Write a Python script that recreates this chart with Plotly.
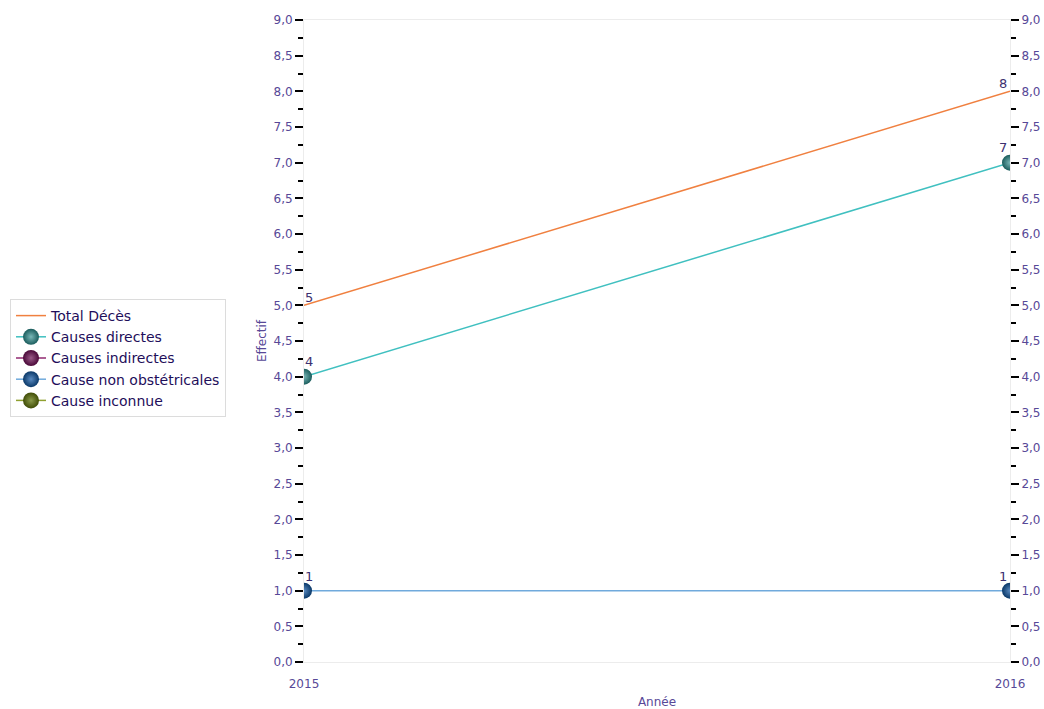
import plotly.graph_objects as go

years = [2015, 2016]
total_deces = [5, 8]
causes_directes = [4, 7]
causes_indirectes = [None, None]
cause_non_obst = [1, 1]
cause_inconnue = [None, None]

y_ticks = [0, 0.5, 1, 1.5, 2, 2.5, 3, 3.5, 4, 4.5, 5, 5.5, 6, 6.5, 7, 7.5, 8, 8.5, 9]

label_color = "#574897"
text_color = "#3c3070"
font_fam = "DejaVu Sans, Verdana, sans-serif"

fig = go.Figure()

fig.add_trace(go.Scatter(
    x=years, y=total_deces, name="Total Décès", mode="lines",
    line=dict(color="#f08040", width=1.5),
))

series = [
    ("Causes directes", causes_directes, "#40c0c0", "#1a5c5c", "#7ab8b8"),
    ("Causes indirectes", causes_indirectes, "#902870", "#4a0838", "#9a5a88"),
    ("Cause non obstétricales", cause_non_obst, "#70aadc", "#0a3868", "#5a8ac0"),
    ("Cause inconnue", cause_inconnue, "#90a030", "#404c06", "#8a9a4a"),
]
for name, vals, lc, c_edge, c_center in series:
    fig.add_trace(go.Scatter(
        x=years, y=vals, name=name, mode="lines+markers",
        line=dict(color=lc, width=1.5),
        marker=dict(size=16, color=c_edge,
                    gradient=dict(type="radial", color=c_center),
                    line=dict(width=0)),
    ))

# data labels (placed via data coordinates)
label_sets = [(total_deces, 8), (causes_directes, 15), (cause_non_obst, 14)]
for vals, dy in label_sets:
    for i, (xv, yv) in enumerate(zip(years, vals)):
        if yv is None:
            continue
        fig.add_annotation(
            x=xv, y=yv, text=str(yv), showarrow=False,
            xshift=5 if i == 0 else -7, yshift=dy,
            font=dict(color=text_color, size=13, family=font_fam),
        )

# invisible trace to activate right axis
fig.add_trace(go.Scatter(x=years, y=[None, None], yaxis="y2", showlegend=False,
                         hoverinfo="skip", mode="lines"))

axis_common = dict(
    range=[0, 9], tickvals=y_ticks, tickformat=".1f",
    ticks="outside", ticklen=8, tickwidth=2, tickcolor="black",
    minor=dict(ticks="outside", ticklen=5, tickwidth=2, tickcolor="black", dtick=0.25, showgrid=False),
    showgrid=False, zeroline=False, automargin=False,
    tickfont=dict(color=label_color, size=12, family=font_fam),
    showline=True, linecolor="#ececec", linewidth=1,
)

fig.update_layout(
    width=1044, height=709,
    paper_bgcolor="white", plot_bgcolor="white",
    separators=",.",
    margin=dict(l=304, r=34, t=20, b=47, autoexpand=False),
    font=dict(family=font_fam, color=label_color),
    xaxis=dict(
        range=[2015, 2016], tickvals=years, ticktext=["2015", "2016"],
        showgrid=False, zeroline=False, ticks="", automargin=False,
        ticklabelstandoff=11,
        showline=True, mirror=True, linecolor="#ececec",
        tickfont=dict(color=label_color, size=12, family=font_fam),
        title=dict(text="Année", font=dict(size=12, color=label_color), standoff=8),
    ),
    yaxis=dict(**axis_common,
               title=dict(text="Effectif", font=dict(size=12, color=label_color), standoff=4)),
    yaxis2=dict(**axis_common, overlaying="y", side="right"),
    legend=dict(
        x=10 / 1044, y=1 - 358 / 709, xref="container", yref="container",
        xanchor="left", yanchor="middle",
        bgcolor="white", bordercolor="#dcdcdc", borderwidth=1,
        font=dict(size=14, color="#1e0e5a", family=font_fam),
        itemwidth=30, tracegroupgap=0,
    ),
    showlegend=True,
)

fig.write_html("out.html", config={"displayModeBar": False},
               post_script="document.body.style.margin='0';document.body.style.padding='0';")
